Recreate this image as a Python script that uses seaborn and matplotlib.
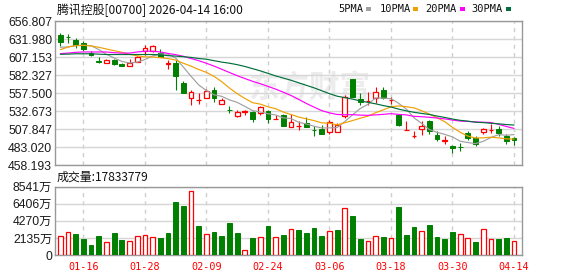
import matplotlib
matplotlib.use("Agg")
import matplotlib.pyplot as plt
import seaborn as sns
import numpy as np
import pandas as pd
from matplotlib.patches import Rectangle

# ---------------- data ----------------
dates = ["01-13", "01-14", "01-15", "01-16", "01-19", "01-20", "01-21", "01-22", "01-23", "01-26",
         "01-27", "01-28", "01-29", "01-30", "02-02", "02-03", "02-04", "02-05", "02-06", "02-09",
         "02-10", "02-11", "02-12", "02-13", "02-16", "02-20", "02-23", "02-24", "02-25", "02-26",
         "02-27", "03-02", "03-03", "03-04", "03-05", "03-06", "03-09", "03-10", "03-11", "03-12",
         "03-13", "03-16", "03-17", "03-18", "03-19", "03-20", "03-23", "03-24", "03-25", "03-26",
         "03-27", "03-30", "03-31", "04-01", "04-02", "04-08", "04-09", "04-10", "04-13", "04-14"]

opens = [637.5, 635.6, 631.5, 627.4, 613.6, 601.6, 599.8, 603.9, 598.0, 595.6,
         601.2, 615.4, 616.3, 612.7, 598.4, 599.8, 572.2, 551.1, 547.8, 551.1,
         562.5, 543.2, 535.0, 526.7, 532.2, 531.3, 530.4, 533.6, 522.1, 527.6,
         511.5, 511.8, 517.0, 506.6, 508.3, 504.6, 503.7, 525.8, 577.7, 550.1,
         546.2, 551.1, 562.5, 547.8, 527.1, 506.9, 498.2, 508.3, 518.9, 500.5,
         492.0, 484.4, 483.2, 503.2, 495.9, 504.6, 507.1, 507.8, 498.2, 496.4]
highs = [640.2, 639.3, 633.8, 630.1, 615.4, 607.2, 604.8, 605.3, 599.8, 605.3,
         609.5, 623.7, 624.6, 619.1, 603.9, 603.9, 574.0, 561.6, 557.5, 563.5,
         565.8, 551.5, 540.5, 534.0, 535.0, 533.6, 540.5, 535.0, 527.6, 529.0,
         529.0, 519.8, 524.9, 512.9, 513.8, 520.3, 516.6, 555.7, 577.7, 557.5,
         558.9, 565.8, 565.8, 552.0, 527.1, 518.9, 506.0, 519.8, 521.2, 506.0,
         498.6, 485.8, 489.5, 505.1, 498.2, 510.1, 515.2, 512.9, 501.4, 497.3]
lows = [622.8, 626.9, 620.0, 615.4, 608.5, 598.9, 599.8, 596.6, 595.2, 595.6,
        601.2, 610.8, 614.5, 607.2, 591.5, 561.6, 557.5, 541.9, 542.8, 551.1,
        545.5, 543.2, 530.4, 524.9, 528.1, 518.0, 528.1, 516.6, 521.8, 512.9,
        511.5, 506.9, 511.1, 499.1, 501.4, 501.4, 503.7, 523.5, 552.0, 541.9,
        541.9, 544.6, 550.1, 543.2, 512.0, 506.9, 495.9, 500.5, 501.4, 492.2,
        487.6, 475.2, 478.4, 492.7, 484.8, 501.4, 502.8, 498.2, 487.6, 485.8]
closes = [628.3, 635.0, 623.7, 619.1, 609.9, 601.2, 603.0, 598.0, 595.2, 599.3,
          607.2, 620.5, 622.8, 608.1, 598.8, 580.9, 558.0, 559.3, 548.2, 560.3,
          551.1, 547.8, 534.5, 531.3, 532.7, 522.1, 538.2, 522.6, 522.3, 512.9,
          517.5, 512.0, 511.1, 506.3, 501.4, 518.4, 514.3, 552.4, 552.0, 545.5,
          546.7, 558.9, 551.1, 548.2, 513.4, 507.1, 498.4, 512.9, 505.1, 495.0,
          492.4, 481.6, 483.0, 495.9, 487.6, 508.3, 507.5, 503.2, 491.3, 492.7]

ma5 = [621.0, 621.4, 623.2, 623.7, 623.2, 617.8, 611.4, 606.2, 601.5, 599.3,
       600.5, 604.0, 609.0, 611.6, 611.5, 606.2, 593.7, 581.0, 569.0, 561.3,
       555.4, 553.3, 548.4, 545.0, 539.5, 533.7, 531.8, 529.4, 527.6, 523.6,
       522.7, 517.5, 515.2, 512.0, 509.7, 509.8, 510.3, 518.6, 527.7, 536.5,
       542.2, 551.1, 550.8, 550.1, 543.7, 535.7, 523.6, 516.0, 507.4, 503.7,
       500.8, 497.4, 491.4, 489.6, 488.1, 491.3, 496.5, 500.5, 499.6, 500.6]
ma10 = [617.7, 621.4, 623.2, 623.7, 622.8, 621.0, 618.6, 616.3, 614.0, 611.3,
        609.2, 607.7, 607.6, 606.6, 605.4, 603.4, 598.9, 595.0, 590.3, 586.4,
        580.8, 573.5, 564.7, 557.0, 550.4, 544.6, 542.6, 538.9, 536.3, 531.6,
        528.2, 524.7, 522.3, 519.8, 516.7, 516.3, 513.9, 516.9, 519.9, 523.1,
        526.0, 530.7, 534.7, 538.9, 540.1, 539.0, 537.4, 533.4, 528.8, 523.7,
        518.3, 510.5, 503.7, 498.5, 495.9, 496.1, 497.0, 496.0, 494.6, 494.4]
ma20 = [612.2, 613.0, 614.0, 614.5, 614.5, 614.5, 614.5, 613.5, 613.0, 613.0,
        614.5, 615.5, 615.5, 614.5, 612.5, 610.8, 608.5, 605.5, 602.5, 598.9,
        595.0, 590.6, 586.2, 581.8, 577.9, 574.0, 570.8, 567.0, 563.3, 559.0,
        554.5, 549.1, 543.5, 538.4, 533.6, 530.5, 528.3, 527.9, 528.1, 527.4,
        527.1, 527.7, 528.5, 529.4, 528.4, 527.7, 525.7, 525.2, 524.4, 523.4,
        522.2, 520.6, 519.2, 518.7, 518.0, 517.6, 517.2, 514.7, 511.7, 509.1]
ma30 = [611.3, 611.5, 612.0, 612.0, 612.0, 611.5, 611.0, 611.0, 611.0, 611.0,
        611.0, 611.0, 611.0, 610.5, 609.5, 608.8, 608.0, 607.0, 605.5, 604.5,
        602.5, 600.5, 599.0, 597.0, 594.5, 591.5, 588.5, 585.0, 581.5, 578.5,
        575.5, 572.0, 568.5, 565.0, 561.0, 557.0, 553.5, 551.5, 549.5, 547.0,
        545.0, 543.0, 540.6, 538.6, 535.7, 533.3, 531.3, 529.7, 528.3, 526.1,
        524.2, 522.0, 520.2, 519.1, 517.6, 517.1, 516.1, 515.4, 514.4, 513.7]

volume_wan = [2375, 2875, 2625, 2000, 1250, 2375, 1625, 2750, 1875, 1750,
              2333, 2458, 2250, 2125, 2750, 6624, 6124, 7957, 3624, 2625,
              2875, 2375, 4000, 2750, 583, 2125, 2208, 3624, 2208, 2500,
              3208, 3125, 2750, 3375, 2375, 3000, 3125, 5832, 4874, 2000,
              1750, 2333, 2250, 2125, 5999, 2500, 3500, 3000, 3749, 2250,
              2000, 2875, 2625, 2125, 1625, 3208, 2000, 2000, 2125, 1783]
volume_up = [1, 1, 0, 0, 0, 0, 1, 0, 0, 1,
             1, 1, 1, 0, 0, 0, 0, 1, 0, 1,
             0, 0, 0, 0, 1, 0, 1, 0, 1, 0,
             1, 0, 0, 0, 0, 1, 0, 1, 0, 0,
             1, 1, 0, 1, 0, 0, 0, 1, 0, 0,
             0, 0, 1, 1, 0, 1, 1, 0, 0, 1]

price_ticks = [656.807, 631.980, 607.153, 582.327, 557.500, 532.673, 507.847, 483.020, 458.193]
price_tick_labels = ["656.807", "631.980", "607.153", "582.327", "557.500", "532.673", "507.847", "483.020", "458.193"]
vol_max = 8541
vol_tick_labels = ["0", "2135万", "4270万", "6406万", "8541万"]
title_text = "腾讯控股[00700] 2026-04-14 16:00"
vol_text = "成交量:17833779"
watermark = "东方财富"
ma_names = ["5PMA", "10PMA", "20PMA", "30PMA"]
ma_colors = ["#a0a0a0", "#f0a000", "#ff00ff", "#006f3c"]

# ---------------- style ----------------
sns.set_theme(style="white")
plt.rcParams["font.family"] = ["Liberation Sans", "Noto Sans CJK SC", "DejaVu Sans"]
RED = "#ff0000"
GREEN = "#008000"
GRID = "#d6d6d6"
SPINE = "#999999"

W, H = 578, 276
def fx(px): return px / W
def fy(py): return 1 - py / H

fig = plt.figure(figsize=(W / 100, H / 100), dpi=100)
fig.patch.set_facecolor("white")
L, R = 55, 522
ax = fig.add_axes([fx(L), fy(165.3), fx(R) - fx(L), fy(21.3) - fy(165.3)])
axv = fig.add_axes([fx(L), fy(255), fx(R) - fx(L), fy(186.7) - fy(255)])

n = len(closes)
x = np.arange(n)
o = np.array(opens); c = np.array(closes); hi = np.array(highs); lo = np.array(lows)
up = c >= o

# watermark
ax.text(0.545, 0.54, watermark, transform=ax.transAxes, ha="center", va="center",
        fontsize=22, color="#ececec", family=["Noto Sans CJK SC"], fontweight="bold", zorder=0.5)

# candles: wicks then bodies
ax.vlines(x, lo, hi, colors=np.where(up, RED, GREEN), lw=0.8, zorder=2)
bw = 0.62
bottom = np.minimum(o, c)
height = np.maximum(np.abs(c - o), 0.05)
ax.bar(x[~up], height[~up], bottom=bottom[~up], width=bw, color=GREEN, edgecolor=GREEN, lw=0.7, zorder=3)
ax.bar(x[up], height[up], bottom=bottom[up], width=bw, color="white", edgecolor=RED, lw=0.9, zorder=3)

# moving averages
ma_df = pd.DataFrame({"x": x, ma_names[0]: ma5, ma_names[1]: ma10, ma_names[2]: ma20, ma_names[3]: ma30})
ma_long = ma_df.melt(id_vars="x", var_name="MA", value_name="value")
sns.lineplot(data=ma_long, x="x", y="value", hue="MA", hue_order=ma_names,
             palette=dict(zip(ma_names, ma_colors)), lw=0.85, legend=False, ax=ax, zorder=4)

# volume
vu = np.array(volume_up, dtype=bool)
vol = np.array(volume_wan, dtype=float)
axv.bar(x[~vu], vol[~vu], width=bw, color=GREEN, edgecolor=GREEN, lw=0.7, zorder=3)
axv.bar(x[vu], vol[vu], width=bw, color="white", edgecolor=RED, lw=0.9, zorder=3)

tick_idx = list(range(3, n, 8))
xlim = (-0.69, 60.04)
for a in (ax, axv):
    a.set_xlim(*xlim)
    a.set_xticks(tick_idx)
    a.grid(True, axis="y", color=GRID, lw=1.0, ls="-", zorder=0)
    a.grid(True, axis="x", color="#cfcfcf", lw=1.0, ls=(0, (3, 3)), zorder=0)
    a.set_axisbelow(True)
    a.set_xlabel(""); a.set_ylabel("")
    for s in a.spines.values():
        s.set_color(SPINE); s.set_linewidth(1.0); s.set_visible(True)
    a.tick_params(length=0)

ax.set_ylim(price_ticks[-1], price_ticks[0])
ax.set_yticks(price_ticks)
ax.set_yticklabels(price_tick_labels, fontsize=8.8, color="#1a1a1a")
ax.tick_params(axis="y", pad=2)
ax.set_xticklabels([])

axv.set_ylim(0, vol_max)
axv.set_yticks(np.linspace(0, vol_max, 5))
axv.set_yticklabels(vol_tick_labels, fontsize=8.8, color="#1a1a1a")
axv.tick_params(axis="y", pad=2)
axv.set_xticklabels([dates[i] for i in tick_idx], fontsize=7.3, color=RED, family=["DejaVu Sans Mono"])
axv.tick_params(axis="x", pad=5)

# header texts
fig.text(fx(57), fy(10.5), title_text, ha="left", va="center", fontsize=8.6,
         color="#111111", family=["Noto Sans CJK SC", "DejaVu Sans"])
fig.text(fx(57), fy(177.5), vol_text, ha="left", va="center", fontsize=8.6,
         color="#111111", family=["Noto Sans CJK SC", "DejaVu Sans"])

# legend
leg_text_x = [338, 380, 425.7, 471.7]
leg_box_x = [366, 413.3, 460, 505.7]
for name, col, tx, bx in zip(ma_names, ma_colors, leg_text_x, leg_box_x):
    fig.text(fx(tx), fy(9.5), name, ha="left", va="center", fontsize=7.5,
             color="#111111", family=["DejaVu Sans Mono"])
    fig.patches.append(Rectangle((fx(bx), fy(10.5)), 5 / W, 3 / H, transform=fig.transFigure,
                                 facecolor=col, edgecolor="none"))

fig.savefig("out.png", dpi=100, facecolor="white")
